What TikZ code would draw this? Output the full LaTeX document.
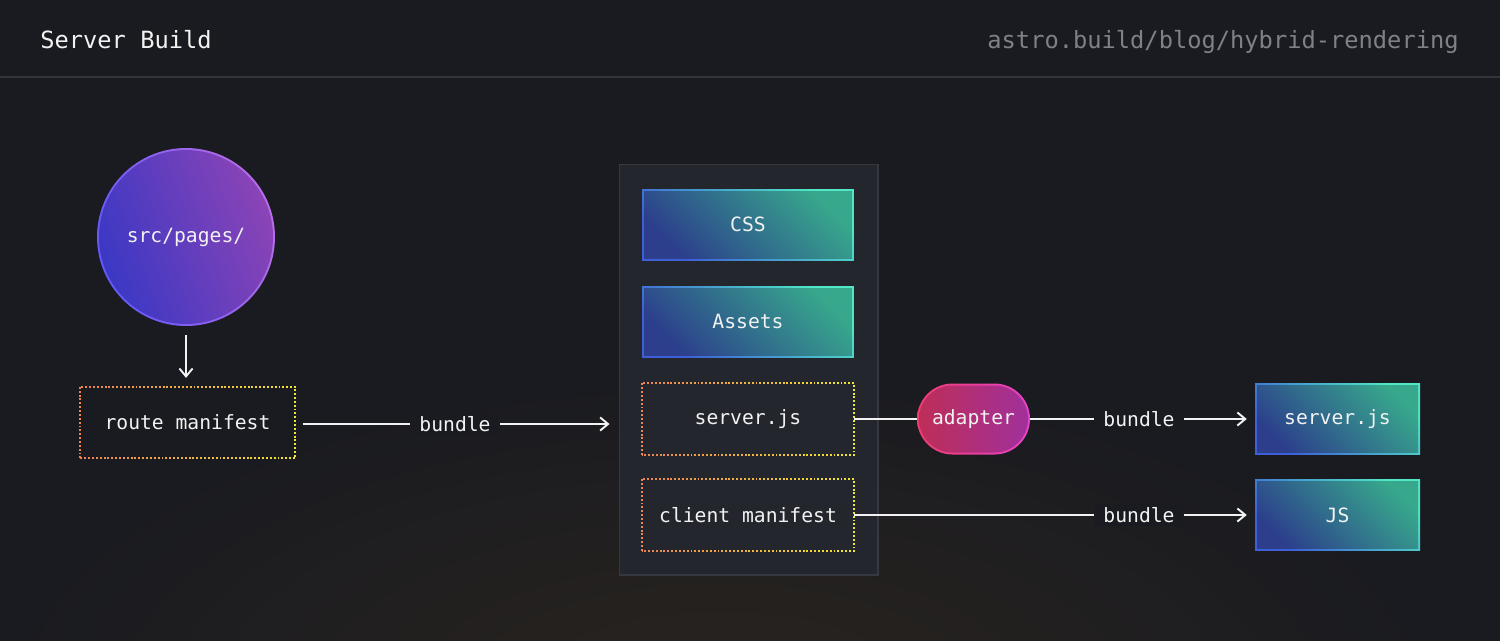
\documentclass[tikz,border=0pt]{standalone}
\usepackage{fontspec}
\setmonofont{DejaVu Sans Mono}
\usetikzlibrary{arrows.meta}
\usetikzlibrary{calc}

\definecolor{bgc}{HTML}{1A1B20}
\definecolor{glowc}{HTML}{29241F}
\definecolor{rulec}{HTML}{33353B}
\definecolor{txtc}{HTML}{F2F2F2}
\definecolor{urlc}{HTML}{7E818A}
\definecolor{panelc}{HTML}{24262D}
\definecolor{panelb}{HTML}{36383F}
\definecolor{tealA}{HTML}{2C3E8C}
\definecolor{tealB}{HTML}{37A88C}
\definecolor{tealEA}{HTML}{3D5FD8}
\definecolor{tealEB}{HTML}{50E6C6}
\definecolor{purA}{HTML}{3A38C4}
\definecolor{purB}{HTML}{8C44B6}
\definecolor{purEA}{HTML}{6458F6}
\definecolor{purEB}{HTML}{B86CEA}
\definecolor{adA}{HTML}{BE2E56}
\definecolor{adB}{HTML}{A0309C}
\definecolor{adEA}{HTML}{EE3C74}
\definecolor{adEB}{HTML}{E642C8}
\definecolor{dotA}{HTML}{F0844E}
\definecolor{dotB}{HTML}{F2E434}

\tikzset{edge/.style = {draw=txtc, line width=1.1pt, -{Straight Barb[length=4.5pt,width=7.5pt]}}}
\tikzset{link/.style = {draw=txtc, line width=1.1pt}}
\tikzset{mono/.style = {font=\ttfamily\fontsize{11.2}{13}\selectfont, text=txtc}}
\tikzset{bundlelbl/.style = {mono, fill=bgc, inner xsep=5pt, inner ysep=2pt}}
\tikzset{tealbox/.style = {mono, minimum width=#1, minimum height=1.42cm, inner sep=0pt,
    left color=tealEA, right color=tealEB, shading angle=135,
    path picture={\shade[left color=tealA, right color=tealB, shading angle=135]
      ([xshift=0.04cm,yshift=0.04cm]path picture bounding box.south west) rectangle
      ([xshift=-0.04cm,yshift=-0.04cm]path picture bounding box.north east);}}}
\tikzset{dotbox/.style = {mono, minimum width=#1, minimum height=1.42cm, inner sep=0pt}}
\tikzset{panel/.style = {fill=panelc, draw=panelb, line width=0.6pt, minimum width=5.18cm, minimum height=8.22cm}}

\begin{document}
\begin{tikzpicture}[x=0.02cm,y=-0.02cm]
    \newcommand{\dotframe}[1]{
        \foreach \k in {0,...,11}{
            \pgfmathsetmacro{\ta}{\k/12}
            \pgfmathsetmacro{\tb}{(\k+1)/12}
            \pgfmathtruncatemacro{\mix}{\k*100/11}
            \begin{scope}
                \clip ($(#1.south west)!\ta!(#1.south east)+(-0.05cm,-0.1cm)$) rectangle ($(#1.north west)!\tb!(#1.north east)+(0.05cm,0.1cm)$);
                \draw[dotB!\mix!dotA, line width=1.1pt, dash pattern=on 1.1pt off 1.1pt] (#1.south west) rectangle (#1.north east);
            \end{scope}
        }
    }

    % Background
    \useasboundingbox (0,0) rectangle (1500,640);
    \fill[bgc] (-10,-10) rectangle (1510,650);
    \begin{scope}
        \clip (-10,-10) rectangle (1510,650);
        \shade[inner color=glowc, outer color=bgc] (720,700) ellipse (720 and 320);
    \end{scope}
    \draw[rulec, line width=0.6pt] (0,77) -- (1500,77);

    % Header
    \node[font=\ttfamily\fontsize{13.5}{16}\selectfont, text=txtc, anchor=base west, inner sep=0pt] (title) at (40,48) {Server Build};
    \node[font=\ttfamily\fontsize{13.5}{16}\selectfont, text=urlc, anchor=base east, inner sep=0pt] (url) at (1459,48) {astro.build/blog/hybrid-rendering};

    % Source side
    \node[mono, circle, minimum size=3.56cm, inner sep=0pt, left color=purEA, right color=purEB, shading angle=110,
          path picture={\shade[left color=purA, right color=purB, shading angle=110] (path picture bounding box.center) circle (1.74cm);}]
          (src) at (186,237) {src/pages/};
    \node[dotbox=4.3cm] (route) at (187.5,422.5) {route manifest};
    \dotframe{route}

    % Build output panel
    \node[panel] (out) at (748.5,369.5) {};
    \node[tealbox=4.24cm] (css) at (748,224.5) {CSS};
    \node[tealbox=4.24cm] (assets) at (748,321.5) {Assets};
    \node[dotbox=4.24cm] (srv) at (748,419) {server.js};
    \node[dotbox=4.24cm] (client) at (748,515) {client manifest};
    \dotframe{srv}
    \dotframe{client}

    % Adapter and final bundles
    \node[mono, rectangle, rounded corners=0.71cm, minimum width=2.26cm, minimum height=1.42cm, inner sep=0pt,
          left color=adEA, right color=adEB,
          path picture={\shade[left color=adA, right color=adB, rounded corners=0.67cm]
            ([xshift=0.04cm,yshift=0.04cm]path picture bounding box.south west) rectangle
            ([xshift=-0.04cm,yshift=-0.04cm]path picture bounding box.north east);}]
          (adapter) at (973.5,419) {adapter};
    \node[tealbox=3.3cm] (srvout) at (1337.5,419) {server.js};
    \node[tealbox=3.3cm] (js) at (1337.5,515) {JS};

    % Labels
    \node[bundlelbl] (bundA) at (455,424) {bundle};
    \node[bundlelbl] (bundB) at (1139,419) {bundle};
    \node[bundlelbl] (bundC) at (1139,515) {bundle};

    % Connectors
    \draw[edge, shorten <=5pt, shorten >=5pt] (src.south) -- (src.south |- route.north);
    \draw[link, shorten <=4.5pt] (route.east |- bundA) -- (bundA);
    \draw[edge, shorten >=5.1pt] (bundA) -- (bundA -| out.west);
    \draw[link] (srv) -- (adapter);
    \draw[link] (adapter) -- (bundB);
    \draw[edge, shorten >=4.5pt] (bundB) -- (srvout);
    \draw[link] (client) -- (bundC);
    \draw[edge, shorten >=4.5pt] (bundC) -- (js);
\end{tikzpicture}
\end{document}
